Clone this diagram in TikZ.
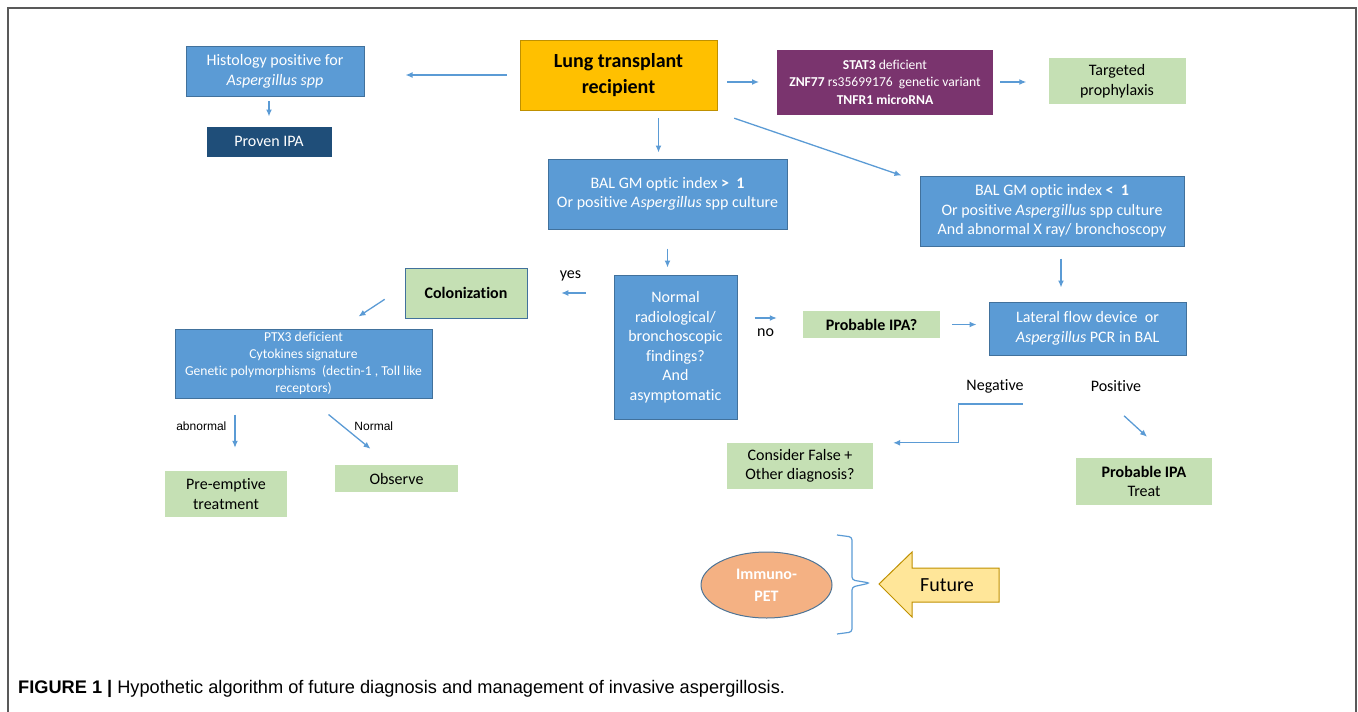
\documentclass[tikz,border=0pt]{standalone}
\usepackage{fontspec}
\setmainfont{Carlito}[Ligatures=NoCommon]
\newfontfamily\arialfont{Liberation Sans}
\usetikzlibrary{arrows.meta,shapes.geometric}
\definecolor{boxblue}{HTML}{5B9BD5}
\definecolor{boxedge}{HTML}{41719C}
\definecolor{boxgreen}{HTML}{C5E0B4}
\definecolor{gold}{HTML}{FFC000}
\definecolor{golddark}{HTML}{BF9000}
\definecolor{navy}{HTML}{1F4E79}
\definecolor{plum}{RGB}{122,52,110}
\definecolor{salmon}{HTML}{F4B183}
\definecolor{pale}{HTML}{FFE699}
\begin{document}
\begin{tikzpicture}[x=1pt,y=-1pt,
		bluebox/.style={draw=boxedge,fill=boxblue,text=white,line width=1pt,inner sep=0pt,align=center,font=\fontsize{16}{19.5}\selectfont},
		greenbox/.style={fill=boxgreen,inner sep=0pt,align=center,font=\fontsize{16}{19.5}\selectfont},
		arr/.style={draw=boxblue,line width=1.3pt,-{Latex[length=7pt,width=6pt]}},
		lbl/.style={inner sep=0pt,font=\fontsize{16}{19.5}\selectfont},
		smalllbl/.style={inner sep=0pt,font=\arialfont\fontsize{12}{14}\selectfont}]
		\useasboundingbox (0,0) rectangle (1358,712);
		\draw[line width=2pt,black!65] (8,712) -- (8,8) -- (1356,8) -- (1356,712);

		\node[draw=golddark,fill=gold,inner sep=0pt,minimum width=197pt,minimum height=70pt,align=center,font=\bfseries\fontsize{20}{26}\selectfont] (lung) at (618.5,75) {Lung transplant\\recipient};
		\node[bluebox,minimum width=178pt,minimum height=50pt,font=\fontsize{16}{20}\selectfont] (histo) at (275,71.5) {Histology positive for\\\textit{Aspergillus spp}};
		\node[bluebox,draw=navy,fill=navy,minimum width=124pt,minimum height=29pt] (proven) at (269,141.5) {Proven IPA};
		\node[bluebox,draw=plum,fill=plum,minimum width=215pt,minimum height=64pt,font=\fontsize{13.6}{17.5}\selectfont] (purple) at (885,82) {\textbf{STAT3} deficient\\\textbf{ZNF77} rs35699176~ genetic variant\\\textbf{TNFR1 microRNA}};
		\node[greenbox,minimum width=137pt,minimum height=46pt,font=\fontsize{16}{20}\selectfont] (targeted) at (1117,81) {Targeted\\prophylaxis};
		\node[bluebox,minimum width=239pt,minimum height=70pt] (bal1) at (667.5,194) {BAL GM optic index \textbf{>}~~\textbf{1}\\Or positive \textit{Aspergillus} spp culture};
		\node[bluebox,minimum width=264pt,minimum height=70pt] (bal2) at (1052,211) {BAL GM optic index \textbf{<}~~\textbf{1}\\Or positive \textit{Aspergillus} spp culture\\And abnormal X ray/ bronchoscopy};
		\node[bluebox,minimum width=123pt,minimum height=144pt] (normal) at (675.5,347) {Normal\\radiological/\\bronchoscopic\\findings?\\And\\asymptomatic};
		\node[greenbox,draw=boxedge,line width=0.6pt,minimum width=122pt,minimum height=50pt,font=\bfseries\fontsize{16}{19.5}\selectfont] (colon) at (466,293) {Colonization};
		\node[bluebox,minimum width=257pt,minimum height=69pt,font=\fontsize{13.6}{17}\selectfont] (ptx3) at (303.5,363.5) {PTX3 deficient\\Cytokines signature\\Genetic polymorphisms~ (dectin-1 , Toll like\\receptors)};
		\node[greenbox,minimum width=122pt,minimum height=46pt] (preempt) at (226,494) {Pre-emptive\\treatment};
		\node[greenbox,minimum width=123pt,minimum height=27pt] (observe) at (396.5,478.5) {Observe};
		\node[greenbox,minimum width=137pt,minimum height=27pt,font=\bfseries\fontsize{16}{19.5}\selectfont] (probq) at (871.5,324.5) {Probable IPA?};
		\node[bluebox,minimum width=197pt,minimum height=53pt,font=\fontsize{16}{20}\selectfont] (lateral) at (1087.5,328.5) {Lateral flow device~ or\\\textit{Aspergillus} PCR in BAL};
		\node[lbl] (negative) at (995,386) {Negative};
		\node[lbl] (positive) at (1116,386) {Positive};
		\node[greenbox,minimum width=146pt,minimum height=46pt] (consider) at (800,466) {Consider False +\\Other diagnosis?};
		\node[greenbox,minimum width=136pt,minimum height=47pt] (probtreat) at (1144,481.5) {\textbf{Probable IPA}\\Treat};

		\draw[arr,shorten <=13pt,shorten >=41pt] (lung.west) -- (lung.west -| histo.east);
		\draw[arr,shorten <=4pt,shorten >=10pt] (histo.south -| proven.north) -- (proven.north);
		\draw[arr,shorten <=10pt,shorten >=18pt] (lung.east |- purple.west) -- (purple.west);
		\draw[arr,shorten <=7pt,shorten >=22pt] (purple.east) -- (purple.east -| targeted.west);
		\draw[arr,shorten <=8pt,shorten >=6pt] ([shift={(40,0)}]lung.south) -- ([shift={(40,0)}]lung.south |- bal1.north);
		\draw[arr] ([shift={(17,8)}]lung.south east) -- ([shift={(-18,0)}]bal2.north west);
		\draw[arr,shorten <=19pt,shorten >=7pt] (bal1.south) -- (bal1.south |- normal.north);
		\draw[arr,shorten <=28pt,shorten >=34pt] (normal.west |- colon.east) -- (colon.east) node[lbl,midway,above=11pt] (yes) {yes};
		\draw[arr] ([shift={(-20,-19)}]colon.south west) -- ([shift={(-74,-12)}]ptx3.north east);
		\draw[arr,shorten <=16pt,shorten >=23pt] ([shift={(9,0)}]preempt.north |- ptx3.south) -- ([shift={(9,0)}]preempt.north) node[smalllbl,pos=0.38,left=8pt] (abn) {abnormal};
		\draw[arr] ([shift={(25,16)}]ptx3.south) -- ([shift={(-26,-16)}]observe.north) node[smalllbl,pos=0.34,right=11pt] (nrm) {Normal};
		\draw[arr] ([shift={(17,-29)}]normal.east) -- ([shift={(-26,-6.5)}]probq.west) node[lbl,midway,below=10pt] (no) {no};
		\draw[arr,shorten <=12pt,shorten >=12pt] (probq.east) -- (probq.east -| lateral.west);
		\draw[arr,shorten <=12pt,shorten >=14pt] ([shift={(9,0)}]bal2.south) -- ([shift={(9,0)}]bal2.south |- lateral.north);
		\draw[arr] ([shift={(-1,11)}]negative.south east) -- ++(-64,0) |- ([shift={(20,0)}]consider.north east);
		\draw[arr] ([shift={(8,24)}]positive.south) -- ([shift={(3,-21)}]probtreat.north);

		\node[ellipse,draw=boxedge!80!gray,fill=salmon,line width=1pt,minimum width=131pt,minimum height=66pt,inner sep=0pt,text=white,align=center,font=\bfseries\fontsize{16}{22}\selectfont] (immuno) at (766.5,585) {Immuno-\\PET};
		\draw[boxblue,line width=1.2pt,rounded corners=3pt] (837,535) -- (852,537) -- (852,580) -- (870,583) -- (852,587) -- (852,632) -- (837,634);
		\draw[golddark,fill=pale,line width=1pt] (879,584) -- (912,552) -- (912,568) -- (999,568) -- (999,602) -- (912,602) -- (912,617) -- cycle;
		\node[lbl,font=\fontsize{20}{24}\selectfont] (future) at (947,585) {Future};

		\node[anchor=base west,inner sep=0pt,font=\arialfont\fontsize{18.2}{20}\selectfont] (caption) at (18,693) {\textbf{FIGURE 1 |} Hypothetic algorithm of future diagnosis and management of invasive aspergillosis.};
	\end{tikzpicture}
\end{document}
